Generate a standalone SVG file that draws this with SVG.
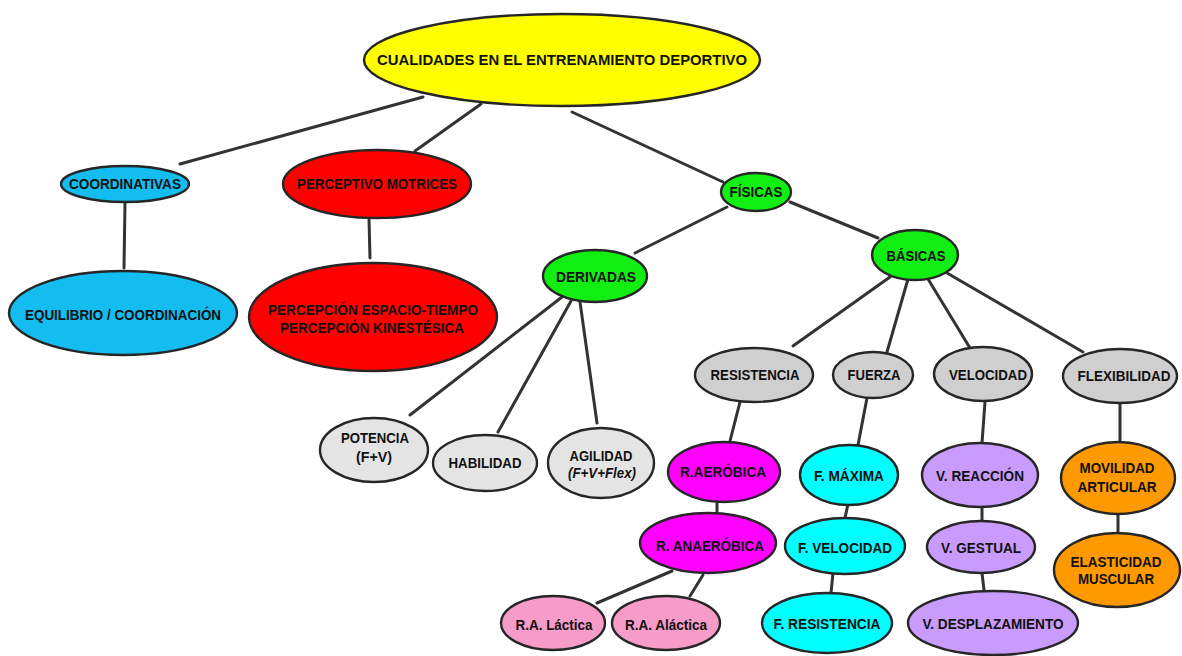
<svg xmlns="http://www.w3.org/2000/svg" width="1182" height="656" viewBox="0 0 1182 656">
<style>
.n{stroke:#262626;stroke-width:2.4}
.t{font-family:"Liberation Sans",Arial,sans-serif;font-weight:bold;font-size:14px;fill:#111;text-anchor:middle}
.i{font-style:italic}
#edges line{stroke:#333;stroke-width:3;stroke-linecap:round}
</style>
<rect width="1182" height="656" fill="#fff"/>
<g id="edges">
<line x1="423" y1="97" x2="180" y2="164"/>
<line x1="481" y1="104" x2="415" y2="151"/>
<line x1="572" y1="112" x2="723" y2="182"/>
<line x1="125" y1="203" x2="124" y2="268"/>
<line x1="369" y1="219" x2="370" y2="258"/>
<line x1="727" y1="207" x2="635" y2="253"/>
<line x1="790" y1="202" x2="878" y2="238"/>
<line x1="562" y1="297" x2="410" y2="415"/>
<line x1="571" y1="301" x2="498" y2="432"/>
<line x1="580" y1="302" x2="597" y2="423"/>
<line x1="890" y1="277" x2="793" y2="346"/>
<line x1="908" y1="279" x2="887" y2="352"/>
<line x1="928" y1="279" x2="970" y2="348"/>
<line x1="947" y1="273" x2="1083" y2="352"/>
<line x1="740" y1="402" x2="730" y2="441"/>
<line x1="867" y1="398" x2="858" y2="445"/>
<line x1="985" y1="402" x2="982" y2="443"/>
<line x1="1120" y1="403" x2="1120" y2="442"/>
<line x1="717" y1="502" x2="717" y2="513"/>
<line x1="848" y1="504" x2="845" y2="518"/>
<line x1="982" y1="507" x2="982" y2="522"/>
<line x1="1118" y1="514" x2="1118" y2="533"/>
<line x1="833" y1="573" x2="831" y2="593"/>
<line x1="982" y1="573" x2="984" y2="590"/>
<line x1="672" y1="571" x2="597" y2="603"/>
<line x1="703" y1="575" x2="690" y2="596"/>
</g>
<g id="root"><ellipse class="n" cx="562" cy="60" rx="198" ry="46" fill="#ffff00"/><text class="t" x="562" y="65" font-size="16" textLength="370" lengthAdjust="spacingAndGlyphs">CUALIDADES EN EL ENTRENAMIENTO DEPORTIVO</text></g>
<g id="coordinativas"><ellipse class="n" cx="125" cy="184" rx="64" ry="18" fill="#13bdf0"/><text class="t" x="125" y="189" textLength="112" lengthAdjust="spacingAndGlyphs">COORDINATIVAS</text></g>
<g id="perceptivo"><ellipse class="n" cx="377" cy="184" rx="94" ry="34" fill="#ff0000"/><text class="t" x="377" y="189" textLength="160" lengthAdjust="spacingAndGlyphs">PERCEPTIVO MOTRICES</text></g>
<g id="equilibrio"><ellipse class="n" cx="123" cy="313" rx="114" ry="42" fill="#13bdf0"/><text class="t" x="123" y="320" textLength="196" lengthAdjust="spacingAndGlyphs">EQUILIBRIO / COORDINACIÓN</text></g>
<g id="percepcion"><ellipse class="n" cx="373" cy="317" rx="124" ry="54" fill="#ff0000"/><text class="t" x="373" y="315" textLength="210" lengthAdjust="spacingAndGlyphs">PERCEPCIÓN ESPACIO-TIEMPO</text><text class="t" x="372" y="333" textLength="184" lengthAdjust="spacingAndGlyphs">PERCEPCIÓN KINESTÉSICA</text></g>
<g id="fisicas"><ellipse class="n" cx="756" cy="192" rx="35" ry="19" fill="#11ee11"/><text class="t" x="756" y="197" textLength="53" lengthAdjust="spacingAndGlyphs">FÍSICAS</text></g>
<g id="basicas"><ellipse class="n" cx="915" cy="255" rx="43" ry="25" fill="#11ee11"/><text class="t" x="916" y="261" textLength="59" lengthAdjust="spacingAndGlyphs">BÁSICAS</text></g>
<g id="derivadas"><ellipse class="n" cx="595" cy="276" rx="52" ry="26" fill="#11ee11"/><text class="t" x="596" y="282" textLength="80" lengthAdjust="spacingAndGlyphs">DERIVADAS</text></g>
<g id="potencia"><ellipse class="n" cx="374" cy="450" rx="54" ry="32" fill="#e4e4e4"/><text class="t" x="375" y="443" textLength="68" lengthAdjust="spacingAndGlyphs">POTENCIA</text><text class="t" x="374" y="462" textLength="36" lengthAdjust="spacingAndGlyphs">(F+V)</text></g>
<g id="habilidad"><ellipse class="n" cx="485" cy="463" rx="52" ry="28" fill="#e4e4e4"/><text class="t" x="485" y="468" textLength="73" lengthAdjust="spacingAndGlyphs">HABILIDAD</text></g>
<g id="agilidad"><ellipse class="n" cx="601" cy="463" rx="53" ry="35" fill="#e4e4e4"/><text class="t" x="601" y="461" textLength="63" lengthAdjust="spacingAndGlyphs">AGILIDAD</text><text class="t i" x="602" y="478" textLength="68" lengthAdjust="spacingAndGlyphs">(F+V+Flex)</text></g>
<g id="resistencia"><ellipse class="n" cx="754" cy="375" rx="59" ry="27" fill="#cfcfcf"/><text class="t" x="755" y="380" textLength="89" lengthAdjust="spacingAndGlyphs">RESISTENCIA</text></g>
<g id="fuerza"><ellipse class="n" cx="873" cy="375" rx="40" ry="23" fill="#cfcfcf"/><text class="t" x="874" y="380" textLength="53" lengthAdjust="spacingAndGlyphs">FUERZA</text></g>
<g id="velocidad"><ellipse class="n" cx="983" cy="374" rx="49" ry="27" fill="#cfcfcf"/><text class="t" x="988" y="380" textLength="78" lengthAdjust="spacingAndGlyphs">VELOCIDAD</text></g>
<g id="flexibilidad"><ellipse class="n" cx="1120" cy="376" rx="57" ry="27" fill="#cfcfcf"/><text class="t" x="1124" y="381" textLength="93" lengthAdjust="spacingAndGlyphs">FLEXIBILIDAD</text></g>
<g id="raerobica"><ellipse class="n" cx="724" cy="472" rx="56" ry="30" fill="#ff00ff"/><text class="t" x="723" y="477" textLength="86" lengthAdjust="spacingAndGlyphs">R.AERÓBICA</text></g>
<g id="fmaxima"><ellipse class="n" cx="849" cy="475" rx="49" ry="30" fill="#00ffff"/><text class="t" x="849" y="481" textLength="70" lengthAdjust="spacingAndGlyphs">F. MÁXIMA</text></g>
<g id="vreaccion"><ellipse class="n" cx="980" cy="475" rx="58" ry="32" fill="#c89bfc"/><text class="t" x="980" y="481" textLength="88" lengthAdjust="spacingAndGlyphs">V. REACCIÓN</text></g>
<g id="movilidad"><ellipse class="n" cx="1118" cy="478" rx="57" ry="36" fill="#ff9900"/><text class="t" x="1117" y="473" textLength="75" lengthAdjust="spacingAndGlyphs">MOVILIDAD</text><text class="t" x="1117" y="492" textLength="79" lengthAdjust="spacingAndGlyphs">ARTICULAR</text></g>
<g id="ranaerobica"><ellipse class="n" cx="708" cy="543" rx="68" ry="30" fill="#ff00ff"/><text class="t" x="710" y="551" textLength="108" lengthAdjust="spacingAndGlyphs">R. ANAERÓBICA</text></g>
<g id="fvelocidad"><ellipse class="n" cx="845" cy="546" rx="60" ry="28" fill="#00ffff"/><text class="t" x="845" y="553" textLength="94" lengthAdjust="spacingAndGlyphs">F. VELOCIDAD</text></g>
<g id="vgestual"><ellipse class="n" cx="981" cy="547" rx="54" ry="26" fill="#c89bfc"/><text class="t" x="981" y="553" textLength="80" lengthAdjust="spacingAndGlyphs">V. GESTUAL</text></g>
<g id="elasticidad"><ellipse class="n" cx="1117" cy="570" rx="63" ry="37" fill="#ff9900"/><text class="t" x="1116" y="567" textLength="91" lengthAdjust="spacingAndGlyphs">ELASTICIDAD</text><text class="t" x="1116" y="584" textLength="76" lengthAdjust="spacingAndGlyphs">MUSCULAR</text></g>
<g id="lactica"><ellipse class="n" cx="553" cy="623" rx="52" ry="27" fill="#f79bc9"/><text class="t" x="554" y="630" textLength="77" lengthAdjust="spacingAndGlyphs">R.A. Láctica</text></g>
<g id="alactica"><ellipse class="n" cx="666" cy="623" rx="54" ry="27" fill="#f79bc9"/><text class="t" x="666" y="630" textLength="82" lengthAdjust="spacingAndGlyphs">R.A. Aláctica</text></g>
<g id="fresistencia"><ellipse class="n" cx="827" cy="623" rx="65" ry="30" fill="#00ffff"/><text class="t" x="827" y="629" textLength="107" lengthAdjust="spacingAndGlyphs">F. RESISTENCIA</text></g>
<g id="vdesplazamiento"><ellipse class="n" cx="993" cy="623" rx="85" ry="32" fill="#c89bfc"/><text class="t" x="993" y="629" textLength="141" lengthAdjust="spacingAndGlyphs">V. DESPLAZAMIENTO</text></g>
</svg>
